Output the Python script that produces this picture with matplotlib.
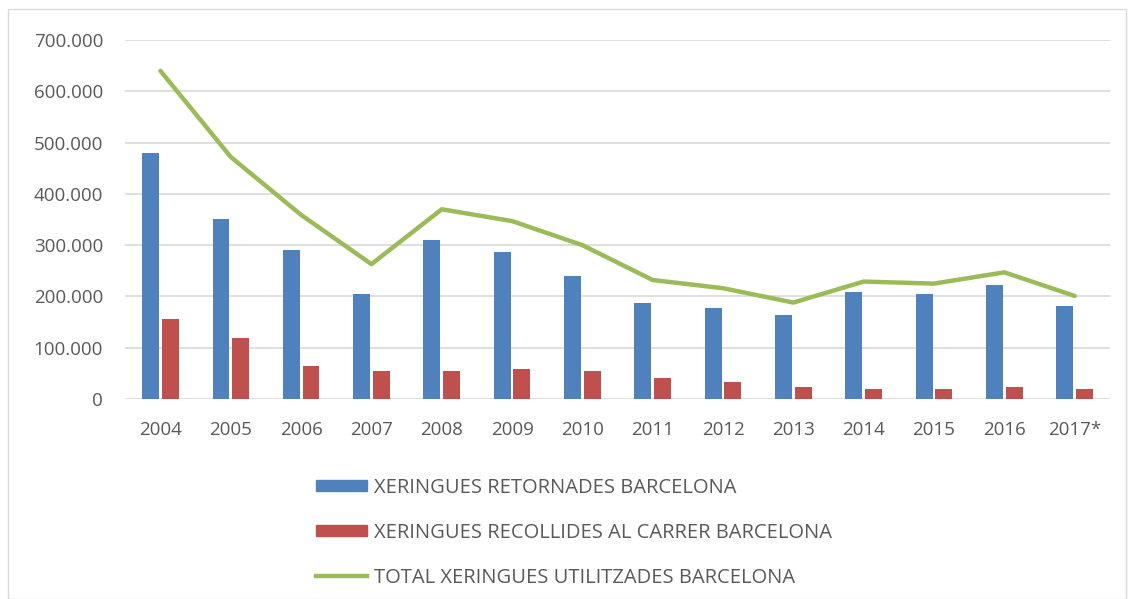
import numpy as np
import matplotlib.pyplot as plt
from matplotlib.ticker import FuncFormatter, MultipleLocator
from matplotlib.patches import Rectangle
from matplotlib.lines import Line2D
from matplotlib.patches import Patch

# Data
years = ['2004', '2005', '2006', '2007', '2008', '2009', '2010',
         '2011', '2012', '2013', '2014', '2015', '2016', '2017*']
retornades = [479000, 352000, 290000, 205000, 311000, 286000, 240000,
              188000, 177000, 163000, 209000, 205000, 223000, 181000]
recollides = [156000, 118000, 65000, 55000, 55000, 58000, 55000,
              40000, 34000, 23000, 20000, 20000, 23000, 20000]
total = [640000, 472000, 359000, 263000, 370000, 347000, 300000,
         232000, 216000, 188000, 229000, 225000, 247000, 201000]

labels = ['XERINGUES RETORNADES BARCELONA',
          'XERINGUES RECOLLIDES AL CARRER BARCELONA',
          'TOTAL XERINGUES UTILITZADES BARCELONA']

blue = '#4f81bd'
red = '#c0504d'
green = '#9bbb59'
text_col = '#595959'

plt.rcParams['font.family'] = ['Open Sans', 'DejaVu Sans']

fig = plt.figure(figsize=(11.29, 5.99), dpi=100)
ax = fig.add_axes([0.111, 0.334, 0.872, 0.599])

x = np.arange(len(years))
w = 0.24
ax.bar(x - 0.14, retornades, w, color=blue, zorder=2)
ax.bar(x + 0.14, recollides, w, color=red, zorder=2)
ax.plot(x, total, color=green, lw=3.2, zorder=3, solid_capstyle='round')

ax.set_xlim(-0.5, len(years) - 0.5)
ax.set_ylim(0, 700000)
ax.yaxis.set_major_locator(MultipleLocator(100000))
ax.yaxis.set_major_formatter(FuncFormatter(lambda v, p: f'{int(v):,}'.replace(',', '.')))
ax.set_xticks(x)
ax.set_xticklabels(years)
ax.tick_params(axis='both', length=0, labelsize=13.5, colors=text_col)
ax.tick_params(axis='x', pad=16)
ax.tick_params(axis='y', pad=16)
ax.grid(axis='y', color='#d9d9d9', lw=1.2, zorder=0)
for s in ax.spines.values():
    s.set_visible(False)

handles = [Patch(color=blue), Patch(color=red),
           Line2D([0], [0], color=green, lw=3.2)]
fig.legend(handles, labels, loc='upper left', bbox_to_anchor=(0.264, 0.233),
           frameon=False, fontsize=14.5, labelcolor=text_col, handlelength=2.5,
           handleheight=0.5, handletextpad=0.35, labelspacing=1.25)

fig.patches.append(Rectangle((0.007, 0.0), 0.99, 0.985, transform=fig.transFigure,
                             fill=False, edgecolor='#d9d9d9', lw=1))

fig.savefig('out.png', dpi=100)
